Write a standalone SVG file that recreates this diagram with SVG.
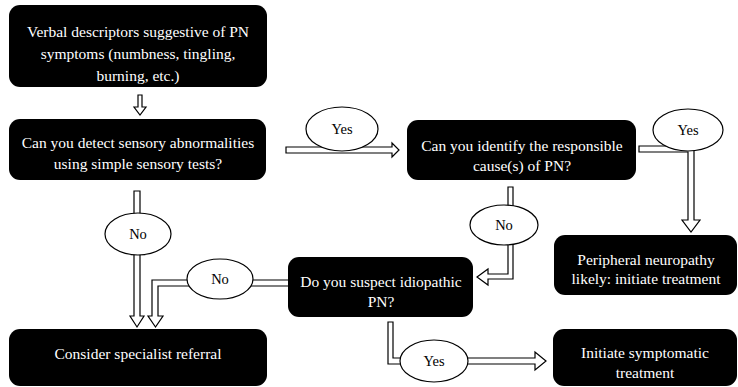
<svg xmlns="http://www.w3.org/2000/svg" width="738" height="387" viewBox="0 0 738 387" font-family="'Liberation Serif', 'Times New Roman', serif">
<style>
.box{fill:#000;stroke:none}
.bt{fill:#fff;font-size:15.5px;text-anchor:middle}
.arr{fill:#fff;stroke:#000;stroke-width:1.2;stroke-linejoin:miter}
.ell{fill:#fff;stroke:#000;stroke-width:1.2}
.lt{fill:#000;font-size:14.5px;text-anchor:middle}
</style>
<rect width="738" height="387" fill="#fff"/>
<g id="connectors">
<polygon class="arr" points="138,95 142,95 142,107 146,107 140,115 134,107 138,107"/>
<polygon class="arr" points="134,191 140,191 140,316 144,316 137,327 130,316 134,316"/>
<polygon class="arr" points="289,280 152,280 152,316 148,316 155.5,327 163,316 158,316 158,286 289,286"/>
<polygon class="arr" points="286,147 392,147 392,143 399,150 392,157 392,153 286,153"/>
<polygon class="arr" points="639,146 694,146 694,220 700,220 691,232 682,220 688,220 688,152 639,152"/>
<polygon class="arr" points="508,187 513,187 513,279 488,279 488,285 477,277 488,269 488,274 508,274"/>
<polygon class="arr" points="388,322 393,322 393,358 535,358 535,352 546,361 535,370 535,364 388,364"/>
<g id="lbl-no1"><ellipse class="ell" cx="138" cy="234" rx="33" ry="21"/><text class="lt" x="138" y="239">No</text></g>
<g id="lbl-no2"><ellipse class="ell" cx="220" cy="279" rx="33" ry="20"/><text class="lt" x="220" y="284">No</text></g>
<g id="lbl-yes1"><ellipse class="ell" cx="342" cy="129" rx="36" ry="22"/><text class="lt" x="342" y="134">Yes</text></g>
<g id="lbl-yes2"><ellipse class="ell" cx="688" cy="130" rx="35" ry="21"/><text class="lt" x="688" y="135">Yes</text></g>
<g id="lbl-no3"><ellipse class="ell" cx="504" cy="225" rx="34" ry="20"/><text class="lt" x="504" y="230">No</text></g>
<g id="lbl-yes4"><ellipse class="ell" cx="434" cy="361" rx="34" ry="21"/><text class="lt" x="434" y="366">Yes</text></g>
</g>
<g id="n1"><rect class="box" x="9" y="5" width="258" height="82" rx="11"/>
<text class="bt" x="138" y="37">Verbal descriptors suggestive of PN</text>
<text class="bt" x="138" y="59">symptoms (numbness, tingling,</text>
<text class="bt" x="138" y="81">burning, etc.)</text></g>
<g id="n2"><rect class="box" x="9" y="119" width="257" height="61" rx="11"/>
<text class="bt" x="138" y="148">Can you detect sensory abnormalities</text>
<text class="bt" x="138" y="169">using simple sensory tests?</text></g>
<g id="n3"><rect class="box" x="9" y="329" width="258" height="57" rx="11"/>
<text class="bt" x="138" y="359">Consider specialist referral</text></g>
<g id="n4"><rect class="box" x="407" y="120" width="229" height="60" rx="11"/>
<text class="bt" x="522" y="151">Can you identify the responsible</text>
<text class="bt" x="522" y="171">cause(s) of PN?</text></g>
<g id="n5"><rect class="box" x="554" y="235" width="183" height="60" rx="11"/>
<text class="bt" x="646" y="265">Peripheral neuropathy</text>
<text class="bt" x="646" y="284">likely: initiate treatment</text></g>
<g id="n6"><rect class="box" x="553" y="329" width="184" height="57" rx="11"/>
<text class="bt" x="645" y="358">Initiate symptomatic</text>
<text class="bt" x="645" y="378">treatment</text></g>
<g id="n7"><rect class="box" x="288" y="257" width="185" height="60" rx="11"/>
<text class="bt" x="381" y="287">Do you suspect idiopathic</text>
<text class="bt" x="381" y="307">PN?</text></g>
</svg>
